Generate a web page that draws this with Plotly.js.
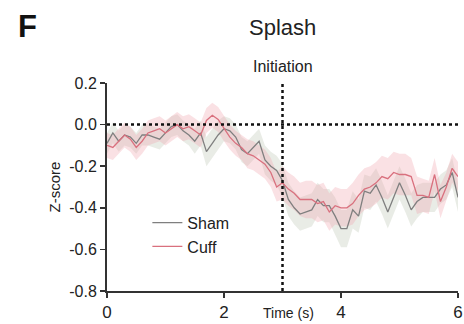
<!DOCTYPE html>
<html>
<head>
<meta charset="utf-8">
<script src="https://cdn.plot.ly/plotly-3.0.1.min.js"></script>
<style>html,body{margin:0;padding:0;background:#fff;}#chart{width:464px;height:324px;}</style>
</head>
<body>
<div id="chart"></div>
<script>
var time = [0,0.1,0.2,0.3,0.4,0.5,0.6,0.7,0.8,0.9,1.0,1.1,1.2,1.3,1.4,1.5,1.6,1.7,1.8,1.9,2.0,2.1,2.2,2.3,2.4,2.5,2.6,2.7,2.8,2.9,3.0,3.1,3.2,3.3,3.4,3.5,3.6,3.7,3.8,3.9,4.0,4.1,4.2,4.3,4.4,4.5,4.6,4.7,4.8,4.9,5.0,5.1,5.2,5.3,5.4,5.5,5.6,5.7,5.8,5.9,6.0];
var sham = [-0.09,-0.04,-0.08,-0.05,-0.06,-0.09,-0.05,-0.05,-0.06,-0.07,-0.04,-0.01,0.0,-0.03,-0.05,-0.08,-0.04,-0.13,-0.09,-0.05,-0.02,-0.03,-0.06,-0.12,-0.14,-0.11,-0.08,-0.17,-0.20,-0.22,-0.27,-0.36,-0.40,-0.43,-0.42,-0.41,-0.36,-0.39,-0.39,-0.44,-0.50,-0.50,-0.41,-0.44,-0.32,-0.33,-0.29,-0.35,-0.42,-0.35,-0.28,-0.34,-0.41,-0.37,-0.35,-0.35,-0.35,-0.31,-0.29,-0.23,-0.35];
var shamErr = [0.05,0.05,0.05,0.05,0.05,0.05,0.05,0.05,0.05,0.05,0.05,0.05,0.05,0.05,0.05,0.06,0.06,0.07,0.07,0.07,0.06,0.06,0.06,0.06,0.06,0.06,0.06,0.07,0.07,0.07,0.08,0.08,0.08,0.08,0.08,0.08,0.08,0.08,0.08,0.09,0.09,0.09,0.09,0.08,0.08,0.08,0.08,0.08,0.08,0.08,0.08,0.08,0.08,0.08,0.07,0.07,0.07,0.07,0.07,0.07,0.07];
var cuff = [-0.10,-0.11,-0.08,-0.05,-0.07,-0.11,-0.08,-0.04,-0.03,-0.02,-0.04,-0.02,0.0,-0.02,-0.01,-0.03,-0.05,0.02,0.045,0.025,-0.02,-0.06,-0.09,-0.11,-0.14,-0.15,-0.17,-0.19,-0.23,-0.30,-0.28,-0.31,-0.33,-0.36,-0.36,-0.36,-0.38,-0.37,-0.42,-0.39,-0.40,-0.40,-0.38,-0.34,-0.31,-0.30,-0.28,-0.25,-0.26,-0.23,-0.24,-0.24,-0.25,-0.34,-0.34,-0.35,-0.24,-0.37,-0.30,-0.21,-0.25];
var cuffErr = [0.06,0.06,0.06,0.06,0.06,0.06,0.06,0.06,0.06,0.06,0.06,0.06,0.06,0.06,0.06,0.06,0.06,0.06,0.06,0.06,0.06,0.06,0.06,0.06,0.07,0.07,0.07,0.07,0.07,0.07,0.08,0.08,0.08,0.08,0.09,0.09,0.09,0.09,0.09,0.09,0.09,0.09,0.10,0.10,0.10,0.10,0.10,0.10,0.10,0.10,0.10,0.10,0.09,0.09,0.08,0.08,0.08,0.08,0.07,0.07,0.07];
var seriesNames = ['Sham','Cuff'];
var xTicks = [0,2,4,6];
var yTicks = [-0.8,-0.6,-0.4,-0.2,0.0,0.2];
var yTickText = ['-0.8','-0.6','-0.4','-0.2','0.0','0.2'];

function band(vals, errs, color){
  var xs = time.concat(time.slice().reverse());
  var up = vals.map(function(v,i){return v+errs[i];});
  var lo = vals.map(function(v,i){return v-errs[i];}).reverse();
  return {x:xs, y:up.concat(lo), type:'scatter', mode:'lines', fill:'toself',
    fillcolor:color, line:{width:0}, hoverinfo:'skip', showlegend:false};
}
var data = [
  band(sham, shamErr, 'rgba(200,208,192,0.4)'),
  band(cuff, cuffErr, 'rgba(242,170,178,0.35)'),
  {x:time, y:sham, type:'scatter', mode:'lines', name:seriesNames[0], line:{color:'#7f7f7f', width:1.3}},
  {x:time, y:cuff, type:'scatter', mode:'lines', name:seriesNames[1], line:{color:'#d9707e', width:1.3}}
];
var font = 'Liberation Sans, Arial, sans-serif';
var layout = {
  width:464, height:324,
  margin:{l:107, r:6, t:83, b:33},
  paper_bgcolor:'#fff', plot_bgcolor:'#fff',
  font:{family:font, color:'#222', size:15},
  showlegend:true,
  legend:{x:0.115, y:0.41, xanchor:'left', yanchor:'top', bgcolor:'rgba(0,0,0,0)', font:{size:16, color:'#222'}, tracegroupgap:0, itemwidth:30},
  xaxis:{range:[0,6], tickvals:xTicks, ticks:'outside', ticklen:5, tickwidth:1.5, tickcolor:'#333',
    showline:true, linecolor:'#333', linewidth:2, showgrid:false, zeroline:false,
    tickfont:{size:17, color:'#222'}},
  yaxis:{range:[-0.8,0.2], tickvals:yTicks, ticktext:yTickText, ticks:'outside', ticklen:5, tickwidth:1.5, tickcolor:'#333',
    showline:true, linecolor:'#333', linewidth:2, showgrid:false, zeroline:false,
    tickfont:{size:16, color:'#222'},
    title:{text:'Z-score', font:{size:15, color:'#222'}, standoff:5}},
  shapes:[
    {type:'line', xref:'x', yref:'y', x0:0, x1:6, y0:0, y1:0, line:{color:'#111', width:2.5, dash:'dot'}},
    {type:'line', xref:'x', yref:'y', x0:3, x1:3, y0:-0.8, y1:0.2, line:{color:'#111', width:2.5, dash:'dot'}},
    {type:'line', xref:'x', yref:'y', x0:2.9, x1:3.1, y0:0.21, y1:0.21, line:{color:'#111', width:2.5}}
  ],
  annotations:[
    {text:'<b>F</b>', xref:'paper', yref:'paper', x:-0.26, y:1.27, xanchor:'left', yanchor:'middle', showarrow:false, font:{size:31, color:'#111'}},
    {text:'Splash', xref:'x', yref:'paper', x:3, y:1.265, xanchor:'center', yanchor:'middle', showarrow:false, font:{size:22, color:'#222'}},
    {text:'Initiation', xref:'x', yref:'paper', x:3, y:1.08, xanchor:'center', yanchor:'middle', showarrow:false, font:{size:16, color:'#222'}},
    {text:'Time (s)', xref:'x', yref:'paper', x:3.1, y:-0.06, xanchor:'center', yanchor:'top', showarrow:false, font:{size:14, color:'#222'}}
  ]
};
Plotly.newPlot('chart', data, layout, {displayModeBar:false, staticPlot:true});
</script>
</body>
</html>
